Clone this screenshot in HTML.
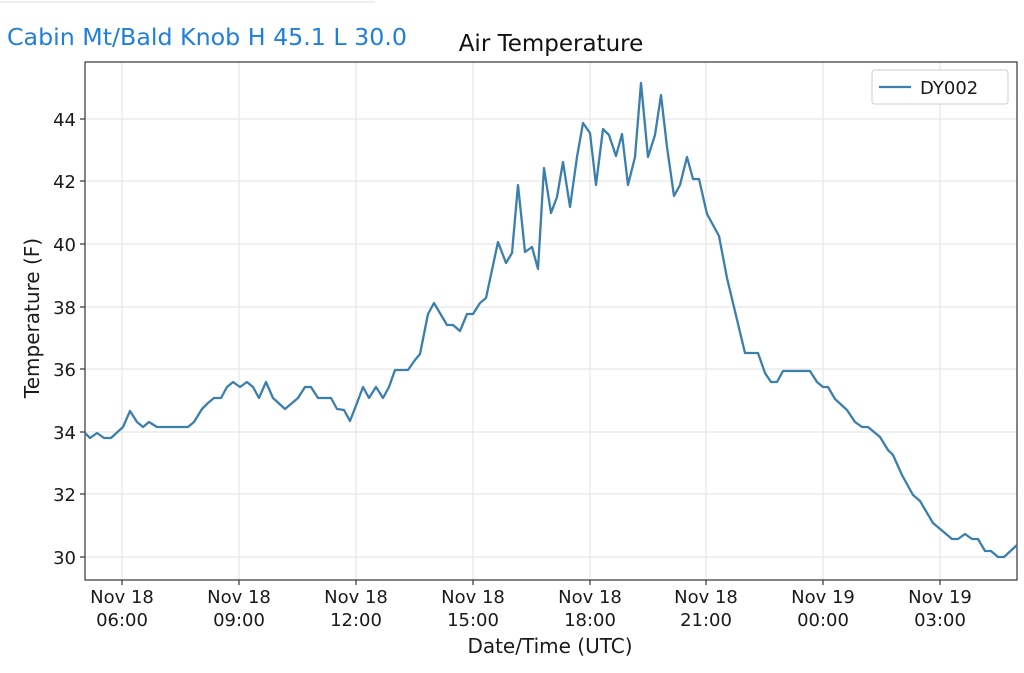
<!DOCTYPE html>
<html><head><meta charset="utf-8"><style>
html,body{margin:0;padding:0;background:#fff;width:1024px;height:673px;overflow:hidden}
svg text{font-family:"DejaVu Sans","Liberation Sans",sans-serif;fill:#1a1a1a}
</style></head><body>
<svg width="1024" height="673" viewBox="0 0 1024 673" xmlns="http://www.w3.org/2000/svg">
<line x1="0" y1="2" x2="375" y2="2" stroke="#eee" stroke-width="2"/>
<text x="7" y="45" font-size="23" style="fill:#1e7fdc;font-family:'DejaVu Sans','Liberation Sans',sans-serif" textLength="400" lengthAdjust="spacingAndGlyphs">Cabin Mt/Bald Knob H 45.1 L 30.0</text>
<text x="551" y="51" font-size="23" text-anchor="middle" style="fill:#111">Air Temperature</text>
<g stroke="#e6e6e6" stroke-width="1.2">
<line x1="85" y1="557" x2="1017" y2="557"/><line x1="85" y1="494" x2="1017" y2="494"/>
<line x1="85" y1="432" x2="1017" y2="432"/><line x1="85" y1="369" x2="1017" y2="369"/>
<line x1="85" y1="307" x2="1017" y2="307"/><line x1="85" y1="244" x2="1017" y2="244"/>
<line x1="85" y1="181" x2="1017" y2="181"/><line x1="85" y1="119" x2="1017" y2="119"/>
<line x1="122" y1="62" x2="122" y2="580"/><line x1="239" y1="62" x2="239" y2="580"/>
<line x1="356" y1="62" x2="356" y2="580"/><line x1="473" y1="62" x2="473" y2="580"/>
<line x1="590" y1="62" x2="590" y2="580"/><line x1="706" y1="62" x2="706" y2="580"/>
<line x1="823" y1="62" x2="823" y2="580"/><line x1="940" y1="62" x2="940" y2="580"/>
</g>
<rect x="85" y="62" width="932" height="518" fill="none" stroke="#333" stroke-width="1.2"/>
<g stroke="#333" stroke-width="1.2">
<line x1="80" y1="557" x2="85" y2="557"/><line x1="80" y1="494" x2="85" y2="494"/><line x1="80" y1="432" x2="85" y2="432"/><line x1="80" y1="369" x2="85" y2="369"/><line x1="80" y1="307" x2="85" y2="307"/><line x1="80" y1="244" x2="85" y2="244"/><line x1="80" y1="181" x2="85" y2="181"/><line x1="80" y1="119" x2="85" y2="119"/>
<line x1="122" y1="580" x2="122" y2="585"/><line x1="239" y1="580" x2="239" y2="585"/><line x1="356" y1="580" x2="356" y2="585"/><line x1="473" y1="580" x2="473" y2="585"/><line x1="590" y1="580" x2="590" y2="585"/><line x1="706" y1="580" x2="706" y2="585"/><line x1="823" y1="580" x2="823" y2="585"/><line x1="940" y1="580" x2="940" y2="585"/>
</g>
<g font-size="18" text-anchor="end">
<text x="76" y="564">30</text><text x="76" y="501">32</text><text x="76" y="439">34</text><text x="76" y="376">36</text><text x="76" y="314">38</text><text x="76" y="251">40</text><text x="76" y="188">42</text><text x="76" y="126">44</text>
</g>
<g font-size="18" text-anchor="middle">
<text x="122" y="603">Nov 18</text><text x="122" y="626">06:00</text>
<text x="239" y="603">Nov 18</text><text x="239" y="626">09:00</text>
<text x="356" y="603">Nov 18</text><text x="356" y="626">12:00</text>
<text x="473" y="603">Nov 18</text><text x="473" y="626">15:00</text>
<text x="590" y="603">Nov 18</text><text x="590" y="626">18:00</text>
<text x="706" y="603">Nov 18</text><text x="706" y="626">21:00</text>
<text x="823" y="603">Nov 19</text><text x="823" y="626">00:00</text>
<text x="940" y="603">Nov 19</text><text x="940" y="626">03:00</text>
</g>
<text x="550" y="653" font-size="20" text-anchor="middle">Date/Time (UTC)</text>
<text transform="translate(39,318) rotate(-90)" font-size="20" text-anchor="middle">Temperature (F)</text>
<polyline fill="none" stroke="#3a7fad" stroke-width="2.3" stroke-linejoin="round" points="85,433 90,438 97,433 104,438 111,438 123,427 130,411 137,422 143,427 149,422 157,427 188,427 194,422 202,409 208,403 214,398 221,398 227,387 233,382 240,387 247,382 253,387 259,398 266,382 273,398 285,409 298,398 305,387 311,387 318,398 331,398 337,409 344,410 350,421 357,403 363,387 369,398 376,387 383,398 389,387 395,370 408,370 415,360 420,354 428,314 434,303 447,325 453,325 460,331 467,314 473,314 480,303 486,298 498,242 506,263 512,253 518,185 525,252 532,247 538,269 544,168 551,213 557,197 563,162 570,207 577,157 583,123 590,133 596,185 603,129 609,135 616,156 622,134 628,185 635,157 641,83 648,157 655,135 661,95 667,147 674,196 680,185 687,157 693,179 699,179 707,214 719,236 727,278 745,353 758,353 765,373 771,382 777,382 783,371 810,371 817,382 823,387 828,387 835,399 847,410 855,422 862,427 868,427 880,437 888,450 893,455 902,475 913,495 920,501 933,523 952,539 958,539 965,534 972,539 978,539 985,551 991,551 998,557 1004,557 1017,545"/>
<rect x="872" y="70" width="136" height="34" rx="3" fill="#fff" stroke="#ccc" stroke-width="1"/>
<line x1="879" y1="87" x2="911" y2="87" stroke="#3a7fad" stroke-width="2.3"/>
<text x="920" y="94" font-size="18">DY002</text>
</svg>
</body></html>
